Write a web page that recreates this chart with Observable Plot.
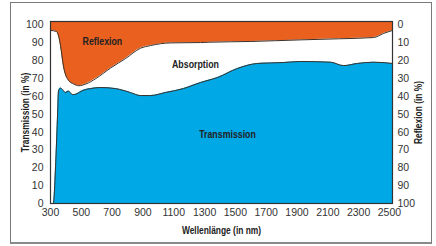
<!DOCTYPE html>
<html>
<head>
<meta charset="utf-8">
<script src="https://cdn.jsdelivr.net/npm/d3@7"></script>
<script src="https://cdn.jsdelivr.net/npm/@observablehq/plot@0.6"></script>
<style>
  html, body { margin: 0; padding: 0; background: #fff; }
  #wrap { position: relative; width: 436px; height: 246px; }
  #box { position: absolute; left: 10px; top: 2px; width: 420px; height: 239px;
         border: 1px solid #7a7a7a; border-bottom: 2px solid #8a8a8a; }
  #chart { position: absolute; left: 0; top: 0; }
  svg g[aria-label$="axis label"] text {
    font-weight: bold;
    font-family: "Liberation Sans", Arial, sans-serif;
    font-size: 10.5px;
    fill: #222;
  }
</style>
</head>
<body>
<div id="wrap"><div id="box"></div><div id="chart"></div></div>
<script>
// Transmission (in %) by wavelength (nm)
const transNm  = [300, 318, 335, 346, 352, 365, 378, 397, 417, 443, 469, 508, 560, 625, 722, 819, 884, 949, 1046, 1163, 1274, 1384, 1514, 1644, 1812, 1923, 2118, 2202, 2293, 2397, 2520];
const transVal = [0,   0,   25,  50,  63,  64.7,63.9,62.2,63,  61,  61.4,63.3,64.4,65,  64.4,62.2,60.5,60.5,62.2, 64.4, 67.8, 70.6, 75.7, 78.5, 79,   79.6, 79.2, 77.3, 78.5, 79.2, 78.5];
// Reflexion (in %) by wavelength (nm)
const reflNm   = [300, 339, 352, 365, 384, 417, 450, 484, 530, 594, 691, 788, 884, 949, 1077, 1274, 1334, 1600, 1923, 2170, 2397, 2462, 2520];
const reflVal  = [3,   3.6, 6,   11.5,23,  31,  33,  34,  33,  30,  24,  18.7,13,  11.5,10,   9.8,  9.6,  9.2,  8.3,  7.7,  7,    4.7,  3];
// Axis ticks
const xTicks = [300, 500, 700, 900, 1100, 1300, 1500, 1700, 1900, 2100, 2300, 2500];
const yTicks = [0, 10, 20, 30, 40, 50, 60, 70, 80, 90, 100];
// In-chart labels (data units)
const annoText = ["Reflexion", "Absorption", "Transmission"];
const annoNm   = [637, 1241, 1449];
const annoPct  = [90.8, 77.9, 38.7];

const trans = transNm.map((x, i) => ({x, y: transVal[i]}));
const refl  = reflNm.map((x, i) => ({x, y: 100 - reflVal[i]}));
const anno  = annoText.map((t, i) => ({t, x: annoNm[i], y: annoPct[i]}));

const blue = "#00a8e6", orange = "#e9601f", edge = "#3a3028";
const yTop = 102;

const chart = Plot.plot({
  width: 436, height: 246,
  marginLeft: 50, marginRight: 44, marginTop: 21, marginBottom: 43,
  x: {domain: [300, 2520]},
  y: {domain: [0, yTop]},
  style: {fontFamily: '"Liberation Sans", Arial, sans-serif', fontSize: "10.5px", color: "#333", background: "transparent"},
  marks: [
    Plot.areaY(trans, {x: "x", y1: 0, y2: "y", fill: blue, curve: "monotone-x"}),
    Plot.areaY(refl, {x: "x", y1: "y", y2: yTop, fill: orange, curve: "monotone-x"}),
    Plot.line(trans, {x: "x", y: "y", stroke: edge, strokeWidth: 1, curve: "monotone-x"}),
    Plot.line(refl, {x: "x", y: "y", stroke: edge, strokeWidth: 1, curve: "monotone-x"}),
    Plot.frame({stroke: "#333", strokeWidth: 1.2}),
    Plot.text(anno, {x: "x", y: "y", text: "t", fontWeight: "bold", fontSize: 11, fill: "#222"}),
    Plot.axisX({ticks: xTicks, tickFormat: d => String(d), tickSize: 0, tickPadding: 5, label: "Wellenlänge (in nm)", labelAnchor: "center", labelArrow: "none", labelOffset: 30}),
    Plot.axisY({anchor: "left", ticks: yTicks, tickFormat: d => String(d), tickSize: 0, tickPadding: 7, label: "Transmission (in %)", labelAnchor: "center", labelArrow: "none", labelOffset: 29}),
    Plot.axisY({anchor: "right", ticks: yTicks, tickFormat: d => String(100 - d), tickSize: 0, tickPadding: 5, label: "Reflexion (in %)", labelAnchor: "center", labelArrow: "none", labelOffset: 29})
  ]
});
document.getElementById("chart").appendChild(chart);
// Condensed look: squeeze bold label texts horizontally
d3.select(chart).selectAll('g[aria-label="text"] text, g[aria-label$="axis label"] text').each(function () {
  const w = this.getComputedTextLength();
  this.setAttribute("textLength", (w * 0.8).toFixed(1));
  this.setAttribute("lengthAdjust", "spacingAndGlyphs");
});
</script>
</body>
</html>
